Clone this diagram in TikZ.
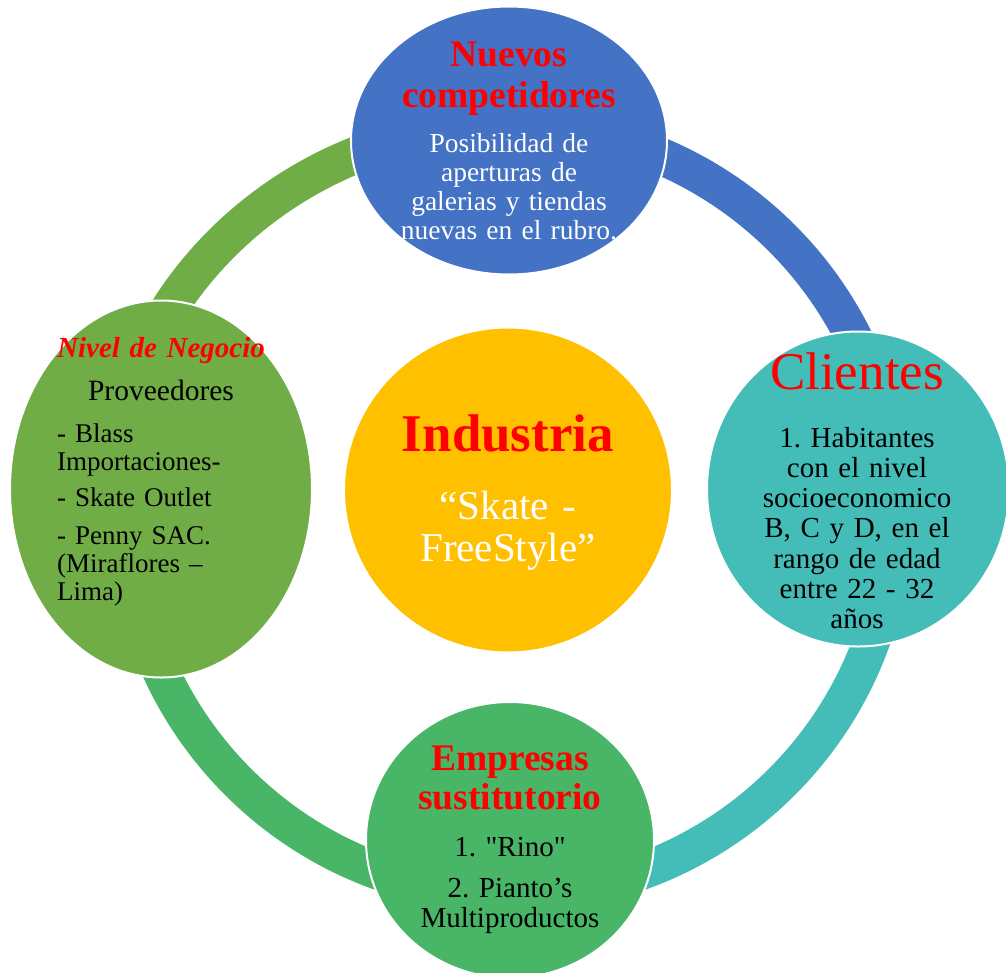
\documentclass[tikz,border=0pt]{standalone}
\usepackage{fontspec}
\setmainfont{Liberation Serif}
\usetikzlibrary{shapes.geometric}

\definecolor{compBlue}{HTML}{4472C4}
\definecolor{provGreen}{HTML}{70AD47}
\definecolor{clientTeal}{HTML}{44BDB8}
\definecolor{sustGreen}{HTML}{48B567}
\definecolor{induYellow}{HTML}{FFC000}

\newcommand{\fsz}[2]{\fontsize{#1}{#2}\selectfont\frenchspacing}

\tikzset{
	blob/.style={ellipse, draw=white, line width=2pt, inner sep=0pt},
	ringarc/.style={line width=37pt},
	headtxt/.style={text=red, align=center, text width=330pt, inner sep=0pt, anchor=north},
	bodytxt/.style={align=center, text width=330pt, inner sep=0pt, anchor=north},
}

\begin{document}
\begin{tikzpicture}[x=1pt,y=-1pt]

	\useasboundingbox (0,0) rectangle (1006,972);

	%Ring
	\coordinate (hub) at (510,510);
	\draw[ringarc, provGreen] ([shift={(90:384.5pt)}]hub) arc[start angle=90, end angle=180, x radius=400pt, y radius=384.5pt];
	\draw[ringarc, compBlue] ([shift={(0:384.5pt)}]hub) arc[start angle=0, end angle=90, radius=384.5pt];
	\draw[ringarc, clientTeal] ([shift={(-90:384.5pt)}]hub) arc[start angle=-90, end angle=0, radius=384.5pt];
	\draw[ringarc, sustGreen] ([shift={(180:384.5pt)}]hub) arc[start angle=180, end angle=270, radius=384.5pt];

	%Ellipses
	\node[blob, fill=compBlue, minimum width=316pt, minimum height=268pt] (compet) at (509,140.5) {};
	\node[blob, fill=provGreen, minimum width=302pt, minimum height=377pt] (prov) at (161,489) {};
	\node[blob, fill=clientTeal, minimum width=302pt, minimum height=315pt] (client) at (858,489) {};
	\node[blob, fill=sustGreen, minimum width=288pt, minimum height=276pt] (sust) at (510,840) {};
	\node[blob, fill=induYellow, minimum width=328pt, minimum height=325pt] (indu) at (508,490) {};

	%Nuevos competidores
	\node[headtxt, font=\fsz{37.5}{41}\bfseries] (competHead) at (509,42) {Nuevos\\competidores};
	\node[bodytxt, text=white, font=\fsz{27.5}{29}] (competBody) at (509,133)
		{Posibilidad de\\aperturas de\\galerias y tiendas\\nuevas en el rubro.};

	%Industria
	\node[headtxt, font=\fsz{53}{56}\bfseries] (induHead) at (508,415) {Industria};
	\node[bodytxt, text=white, font=\fsz{41}{42}] (induBody) at (508,491) {“Skate -\\FreeStyle”};

	%Clientes
	\node[headtxt, font=\fsz{53}{56}] (clientHead) at (857,353) {Clientes};
	\node[bodytxt, font=\fsz{29}{30.2}] (clientBody) at (857,427)
		{1. Habitantes\\con el nivel\\socioeconomico\\B, C y D, en el\\rango de edad\\entre 22 - 32\\años};

	%Empresas sustitutorio
	\node[headtxt, font=\fsz{37.5}{39}\bfseries] (sustHead) at (510,746) {Empresas\\sustitutorio};
	\node[bodytxt, font=\fsz{29}{30}] (sustBody) at (510,837)
		{1. \textquotedbl Rino\textquotedbl\par\vspace{11pt}2. Pianto’s\\Multiproductos};

	%Nivel de Negocio
	\node[headtxt, font=\fsz{29}{30}\bfseries\itshape] (provHead) at (161,337) {Nivel de Negocio};
	\node[bodytxt, font=\fsz{29.5}{30}] (provTitle) at (161,380) {Proveedores};
	\node[bodytxt, align=left, text width=240pt, anchor=north west, font=\fsz{27}{28}] (provBody) at (57,423.5)
		{- Blass\\Importaciones-\par\vspace{8pt}- Skate Outlet\par\vspace{10pt}- Penny SAC.\\(Miraflores –\\Lima)};

\end{tikzpicture}
\end{document}
